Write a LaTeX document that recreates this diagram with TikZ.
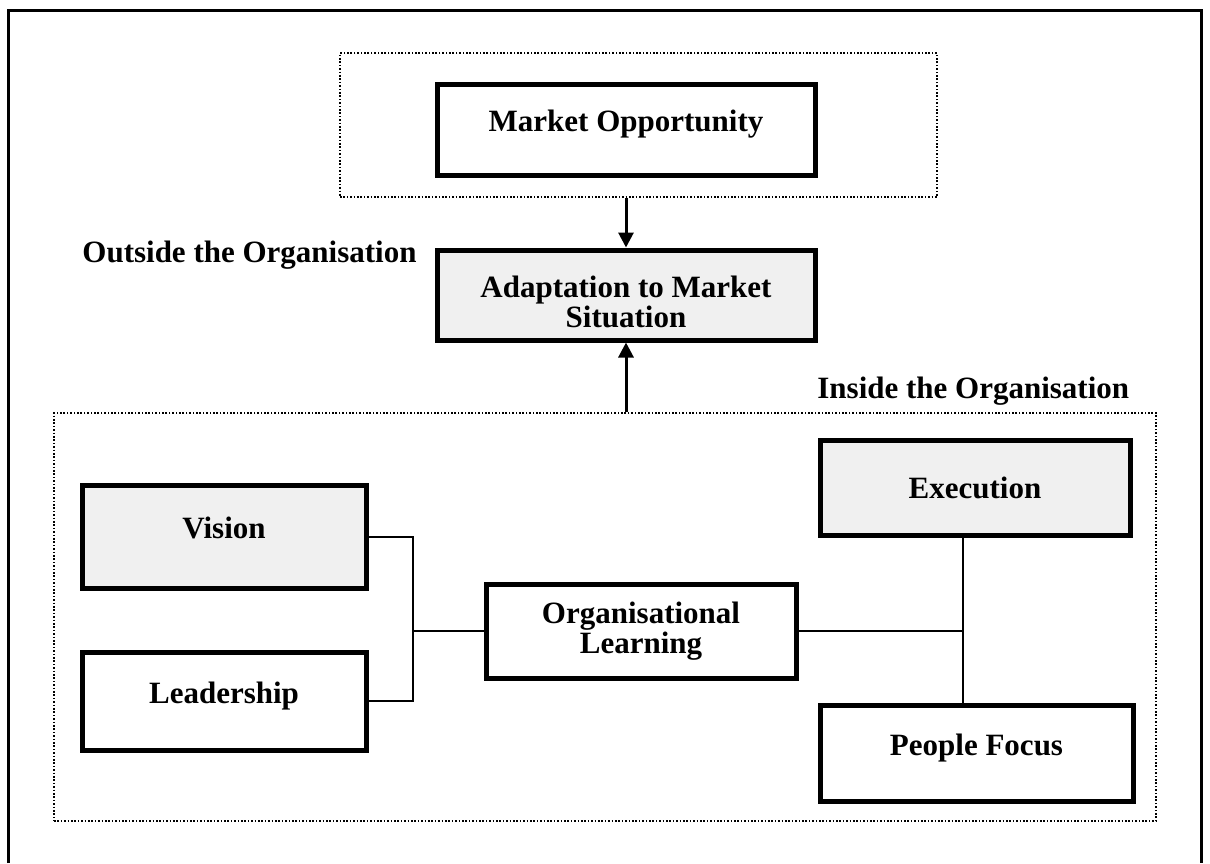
\documentclass[tikz,border=0pt]{standalone}
\usepackage{fontspec}
\setmainfont{Liberation Serif}
\usetikzlibrary{arrows.meta,calc}
\begin{document}
\begin{tikzpicture}[x=0.5pt,y=-0.5pt,
  box/.style={draw,line width=2.5pt,inner sep=0pt,align=center,
    font=\fontsize{15.5pt}{15pt}\selectfont\bfseries},
  raised/.style={text height=7pt,text depth=4.8pt},
  shaded/.style={fill=black!6},
  zone/.style={draw,line width=0.8pt,dash pattern=on 0.8pt off 0.9pt,inner sep=0pt},
  lbl/.style={font=\fontsize{15.5pt}{15pt}\selectfont\bfseries,inner sep=0pt},
  conn/.style={line width=1pt},
  arr/.style={line width=1.5pt,-{Triangle[width=7.5pt,length=7.5pt]}},
  frame/.style={line width=1.5pt}]
\useasboundingbox (0,0) rectangle (1210,863);
% outer frame (no bottom edge visible)
\coordinate (fbl) at (8,863);
\coordinate (ftl) at (8,10);
\coordinate (ftr) at (1201,10);
\coordinate (fbr) at (1201,863);
\draw[frame] (fbl) -- (ftl) -- (ftr) -- (fbr);
% zones
\node[zone,minimum width=298.5pt,minimum height=72pt] (topzone) at (638.5,125) {};
\node[zone,minimum width=551pt,minimum height=204pt] (inzone) at (605,617) {};
% boxes
\node[box,raised,minimum width=189pt,minimum height=45.5pt] (market) at (626,129.5) {Market Opportunity};
\node[box,shaded,minimum width=189pt,minimum height=45pt] (adapt) at (626,295) {\rule{0pt}{18pt}Adaptation to Market\\Situation};
\node[box,shaded,raised,minimum width=142pt,minimum height=51.5pt] (vision) at (224,536.5) {Vision};
\node[box,raised,minimum width=142pt,minimum height=49pt] (lead) at (224,701) {Leadership};
\node[box,minimum width=155pt,minimum height=47pt] (org) at (641,631) {Organisational\\Learning};
\node[box,shaded,minimum width=155pt,minimum height=47.5pt] (exec) at (975,487.5) {Execution};
\node[box,raised,minimum width=156.5pt,minimum height=48pt] (people) at (976.5,753) {People Focus};
% labels
\node[lbl,anchor=base west] (outside) at (82,262) {Outside the Organisation};
\node[lbl,anchor=base west] (inside) at (817,398) {Inside the Organisation};
% arrows
\draw[arr] (adapt.north |- topzone.south) -- (adapt.north);
\draw[arr] (adapt.south |- inzone.north) -- (adapt.south);
% left junction
\coordinate (jl) at (413,631);
\draw[conn] (vision.east) -- (vision.east -| jl) -- (lead.east -| jl) -- (lead.east);
\draw[conn] (jl) -- (org.west);
% right junction
\coordinate (jr) at (963,631);
\draw[conn] (org.east) -- (jr);
\draw[conn] (exec.south -| jr) -- (people.north -| jr);
\end{tikzpicture}
\end{document}
